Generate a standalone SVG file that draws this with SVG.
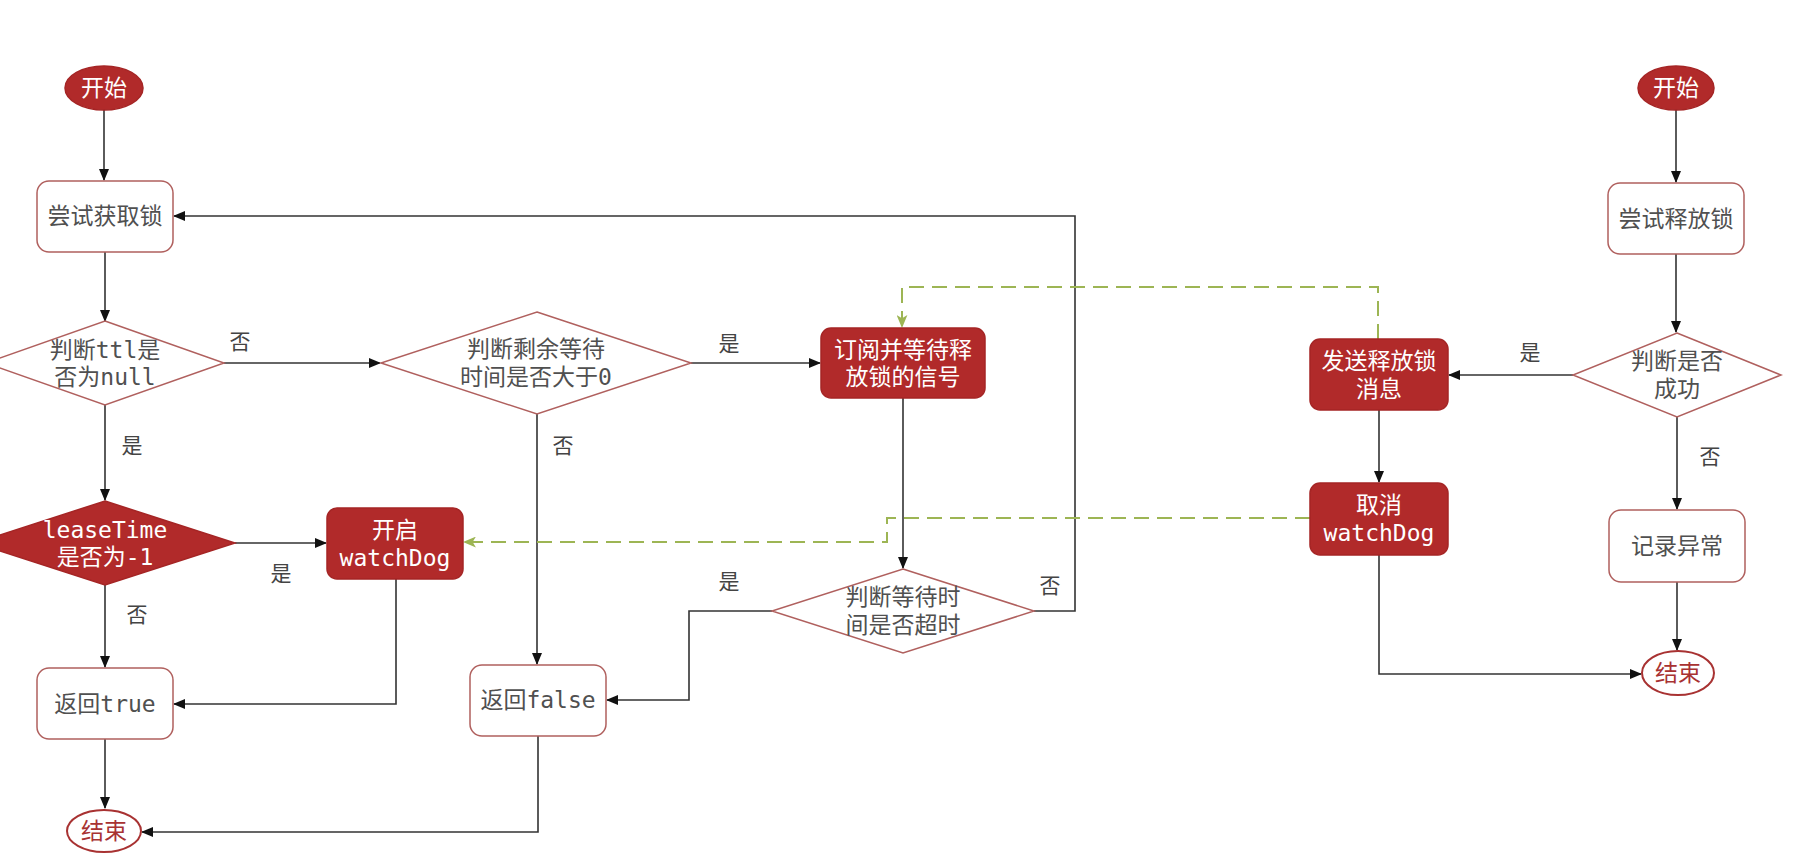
<svg xmlns="http://www.w3.org/2000/svg" width="1809" height="857" viewBox="0 0 1809 857">
<defs>
<style>
text{font-family:"DejaVu Sans Mono","Noto Sans CJK SC",monospace;font-size:23px;text-anchor:middle;dominant-baseline:central}
.w{fill:#ffffff;stroke:#b0605e;stroke-width:1.5}
.r{fill:#b12a2a;stroke:#a52525;stroke-width:1.5}
.tw{fill:#ffffff}
.tg{fill:#505050}
.tr{fill:#a83232}
.term{fill:#ffffff;stroke:#a83232;stroke-width:2}
.lbl{fill:#444444;font-size:21px}
.e{fill:none;stroke:#333333;stroke-width:1.6}
.g{fill:none;stroke:#9db554;stroke-width:2;stroke-dasharray:15 8}
</style>
<marker id="a" viewBox="0 0 12 10" refX="11" refY="5" markerWidth="12" markerHeight="10" markerUnits="userSpaceOnUse" orient="auto">
<path d="M0,0 L12,5 L0,10 z" fill="#111111"/>
</marker>
<marker id="ag" viewBox="0 0 12 10" refX="11" refY="5" markerWidth="13" markerHeight="11" markerUnits="userSpaceOnUse" orient="auto">
<path d="M0,0 L12,5 L0,10 L3,5 z" fill="#9db554"/>
</marker>
</defs>
<rect width="1809" height="857" fill="#ffffff"/>

<g id="connectors">
<path class="e" d="M104,110 V180" marker-end="url(#a)"/>
<path class="e" d="M105,252 V321" marker-end="url(#a)"/>
<path class="e" d="M224,363 H380" marker-end="url(#a)"/>
<path class="e" d="M691,363 H820" marker-end="url(#a)"/>
<path class="e" d="M537,414 V664" marker-end="url(#a)"/>
<path class="e" d="M903,398 V568" marker-end="url(#a)"/>
<path class="e" d="M772,611 H689 V700 H607" marker-end="url(#a)"/>
<path class="e" d="M1034,611 H1075 V216 H174" marker-end="url(#a)"/>
<path class="e" d="M105,405 V500" marker-end="url(#a)"/>
<path class="e" d="M235,543 H326" marker-end="url(#a)"/>
<path class="e" d="M105,585 V667" marker-end="url(#a)"/>
<path class="e" d="M396,579 V704 H174" marker-end="url(#a)"/>
<path class="e" d="M105,739 V808" marker-end="url(#a)"/>
<path class="e" d="M538,736 V832 H142" marker-end="url(#a)"/>
<path class="e" d="M1676,110 V182" marker-end="url(#a)"/>
<path class="e" d="M1676,254 V332" marker-end="url(#a)"/>
<path class="e" d="M1573,375 H1449" marker-end="url(#a)"/>
<path class="e" d="M1379,410 V482" marker-end="url(#a)"/>
<path class="e" d="M1677,417 V509" marker-end="url(#a)"/>
<path class="e" d="M1677,582 V650" marker-end="url(#a)"/>
<path class="e" d="M1379,555 V674 H1641" marker-end="url(#a)"/>
<path class="g" d="M1378,339 V287 H902 V327" marker-end="url(#ag)"/>
<path class="g" d="M1310,518 H887 V542 H464" marker-end="url(#ag)"/>
<text class="lbl" x="240" y="342">否</text>
<text class="lbl" x="729" y="344">是</text>
<text class="lbl" x="563" y="446">否</text>
<text class="lbl" x="729" y="582">是</text>
<text class="lbl" x="1050" y="586">否</text>
<text class="lbl" x="132" y="446">是</text>
<text class="lbl" x="281" y="574">是</text>
<text class="lbl" x="137" y="615">否</text>
<text class="lbl" x="1530" y="353">是</text>
<text class="lbl" x="1710" y="457">否</text>
</g>

<g id="start1">
<ellipse class="r" cx="104" cy="88" rx="39" ry="22"/>
<text class="tw" x="104" y="88">开始</text>
</g>
<g id="tryLock">
<rect class="w" x="37" y="181" width="136" height="71" rx="12"/>
<text class="tg" x="105" y="216">尝试获取锁</text>
</g>
<g id="ttlNull">
<polygon class="w" points="105,321 224,363 105,405 -14,363"/>
<text class="tg" x="105" y="350">判断ttl是</text>
<text class="tg" x="105" y="377">否为null</text>
</g>
<g id="remainWait">
<polygon class="w" points="537,312 691,363 537,414 381,363"/>
<text class="tg" x="536" y="349">判断剩余等待</text>
<text class="tg" x="536" y="377">时间是否大于0</text>
</g>
<g id="subscribe">
<rect class="r" x="821" y="328" width="164" height="70" rx="10"/>
<text class="tw" x="903" y="350">订阅并等待释</text>
<text class="tw" x="903" y="377">放锁的信号</text>
</g>
<g id="timeout">
<polygon class="w" points="903,569 1034,611 903,653 772,611"/>
<text class="tg" x="903" y="597">判断等待时</text>
<text class="tg" x="903" y="625">间是否超时</text>
</g>
<g id="leaseTime">
<polygon class="r" points="105,501 235,543 105,585 -25,543"/>
<text class="tw" x="105" y="530">leaseTime</text>
<text class="tw" x="105" y="557">是否为-1</text>
</g>
<g id="startWatchDog">
<rect class="r" x="327" y="508" width="136" height="71" rx="10"/>
<text class="tw" x="395" y="530">开启</text>
<text class="tw" x="395" y="558">watchDog</text>
</g>
<g id="returnTrue">
<rect class="w" x="37" y="668" width="136" height="71" rx="12"/>
<text class="tg" x="105" y="704">返回true</text>
</g>
<g id="returnFalse">
<rect class="w" x="470" y="665" width="136" height="71" rx="12"/>
<text class="tg" x="538" y="700">返回false</text>
</g>
<g id="end1">
<ellipse class="term" cx="104" cy="831" rx="37" ry="21"/>
<text class="tr" x="104" y="831">结束</text>
</g>

<g id="start2">
<ellipse class="r" cx="1676" cy="88" rx="38" ry="22"/>
<text class="tw" x="1676" y="88">开始</text>
</g>
<g id="tryUnlock">
<rect class="w" x="1608" y="183" width="136" height="71" rx="12"/>
<text class="tg" x="1676" y="219">尝试释放锁</text>
</g>
<g id="success">
<polygon class="w" points="1677,333 1781,375 1677,417 1573,375"/>
<text class="tg" x="1677" y="361">判断是否</text>
<text class="tg" x="1677" y="389">成功</text>
</g>
<g id="publish">
<rect class="r" x="1310" y="339" width="138" height="71" rx="10"/>
<text class="tw" x="1379" y="361">发送释放锁</text>
<text class="tw" x="1379" y="389">消息</text>
</g>
<g id="cancelWatchDog">
<rect class="r" x="1310" y="483" width="138" height="72" rx="10"/>
<text class="tw" x="1379" y="505">取消</text>
<text class="tw" x="1379" y="533">watchDog</text>
</g>
<g id="logError">
<rect class="w" x="1609" y="510" width="136" height="72" rx="12"/>
<text class="tg" x="1677" y="546">记录异常</text>
</g>
<g id="end2">
<ellipse class="term" cx="1678" cy="673" rx="36" ry="22"/>
<text class="tr" x="1678" y="673">结束</text>
</g>
</svg>
